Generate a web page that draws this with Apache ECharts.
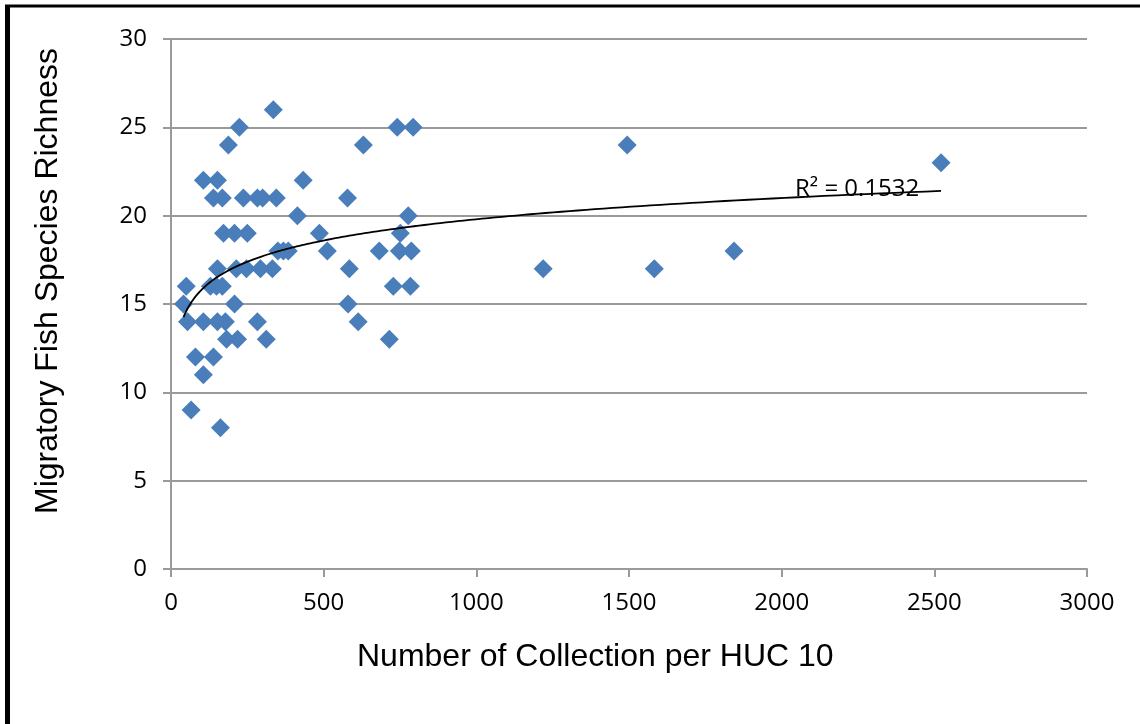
<!DOCTYPE html>
<html>
<head>
<meta charset="utf-8">
<script src="https://cdn.jsdelivr.net/npm/echarts@6/dist/echarts.min.js"></script>
<style>
  html, body { margin: 0; padding: 0; background: #fff; }
  #scatterChart { width: 1140px; height: 724px; }
</style>
</head>
<body>
<div id="scatterChart"></div>
<script>
// collections per HUC 10 (x) and migratory species richness (y)
var collections = [
  335,
  224, 741, 793,
  188, 630, 1494,
  2522,
  106, 152, 433,
  139, 168, 237, 283, 300, 345, 578,
  414, 777,
  172, 208, 250, 486, 751,
  350, 368, 384, 512, 682, 748, 787, 1844,
  152, 214, 247, 293, 332, 584, 1219, 1583,
  50, 129, 149, 168, 728, 784,
  41, 208, 580,
  54, 106, 152, 178, 283, 613,
  182, 218, 312, 715,
  80, 139,
  106,
  66,
  162
]
var richness = [
  26,
  25, 25, 25,
  24, 24, 24,
  23,
  22, 22, 22,
  21, 21, 21, 21, 21, 21, 21,
  20, 20,
  19, 19, 19, 19, 19,
  18, 18, 18, 18, 18, 18, 18, 18,
  17, 17, 17, 17, 17, 17, 17, 17,
  16, 16, 16, 16, 16, 16,
  15, 15, 15,
  14, 14, 14, 14, 14, 14,
  13, 13, 13, 13,
  12, 12,
  11,
  9,
  8
]
var xTicks = [0, 500, 1000, 1500, 2000, 2500, 3000]
var yTicks = [0, 5, 10, 15, 20, 25, 30]
var r2Label = 'R² = 0.1532'

var points = collections.map(function (x, i) { return [x, richness[i]] })

// logarithmic trendline (y = a ln x + b), least squares on the points above
var n = points.length
var sl = 0, sy = 0, sly = 0, sll = 0
points.forEach(function (p) {
  var l = Math.log(p[0])
  sl += l; sy += p[1]; sly += l * p[1]; sll += l * l
})
var a = (n * sly - sl * sy) / (n * sll - sl * sl)
var b = (sy - a * sl) / n
var xMin = Math.min.apply(null, collections)
var xMax = Math.max.apply(null, collections)
var trend = []
for (var k = 0; k <= 200; k++) {
  var xv = xMin * Math.pow(xMax / xMin, k / 200)
  trend.push([xv, a * Math.log(xv) + b])
}

var gray = '#9a9a9a'
var tickFont = { color: '#000', fontFamily: 'Open Sans', fontSize: 24 }

var myChart = echarts.init(document.getElementById('scatterChart'))
myChart.setOption({
  animation: false,
  backgroundColor: '#fff',
  grid: { left: 171, right: 53, top: 39, bottom: 155 },
  xAxis: {
    type: 'value',
    min: xTicks[0],
    max: xTicks[xTicks.length - 1],
    interval: xTicks[1] - xTicks[0],
    axisLine: { show: true, lineStyle: { color: gray, width: 2 } },
    axisTick: { show: true, length: 8, lineStyle: { color: gray, width: 2 } },
    splitLine: { show: false },
    axisLabel: Object.assign({ margin: 22, formatter: function (v) { return String(v) } }, tickFont)
  },
  yAxis: {
    type: 'value',
    min: yTicks[0],
    max: yTicks[yTicks.length - 1],
    interval: yTicks[1] - yTicks[0],
    axisLine: { show: true, lineStyle: { color: gray, width: 2 } },
    axisTick: { show: true, length: 8, lineStyle: { color: gray, width: 2 } },
    splitLine: { show: true, lineStyle: { color: gray, width: 2 } },
    axisLabel: Object.assign({ margin: 24 }, tickFont)
  },
  graphic: [
    { type: 'line', shape: { x1: 7.5, y1: 5, x2: 7.5, y2: 724 }, style: { stroke: '#000', lineWidth: 5 } },
    { type: 'line', shape: { x1: 5, y1: 6, x2: 1140, y2: 6 }, style: { stroke: '#000', lineWidth: 3 } },
    {
      type: 'text', left: 357, top: 641,
      style: { text: 'Number of Collection per HUC 10', fill: '#000', font: '32px "Liberation Sans"' }
    },
    {
      type: 'text', rotation: Math.PI / 2, left: 32, top: 48,
      style: { text: 'Migratory Fish Species Richness', fill: '#000', font: '32px "Liberation Sans"' }
    },
    {
      type: 'text', left: 795, top: 177, z: 10,
      style: { text: r2Label, fill: '#000', font: '24px "Open Sans"' }
    }
  ],
  series: [
    {
      type: 'scatter',
      data: points,
      symbol: 'diamond',
      symbolSize: [19, 19],
      itemStyle: { color: '#4A7EBB', opacity: 1 },
      z: 3
    },
    {
      type: 'line',
      data: trend,
      showSymbol: false,
      symbol: 'none',
      lineStyle: { color: '#000', width: 1.8 },
      z: 4,
      silent: true
    }
  ]
})
</script>
</body>
</html>
